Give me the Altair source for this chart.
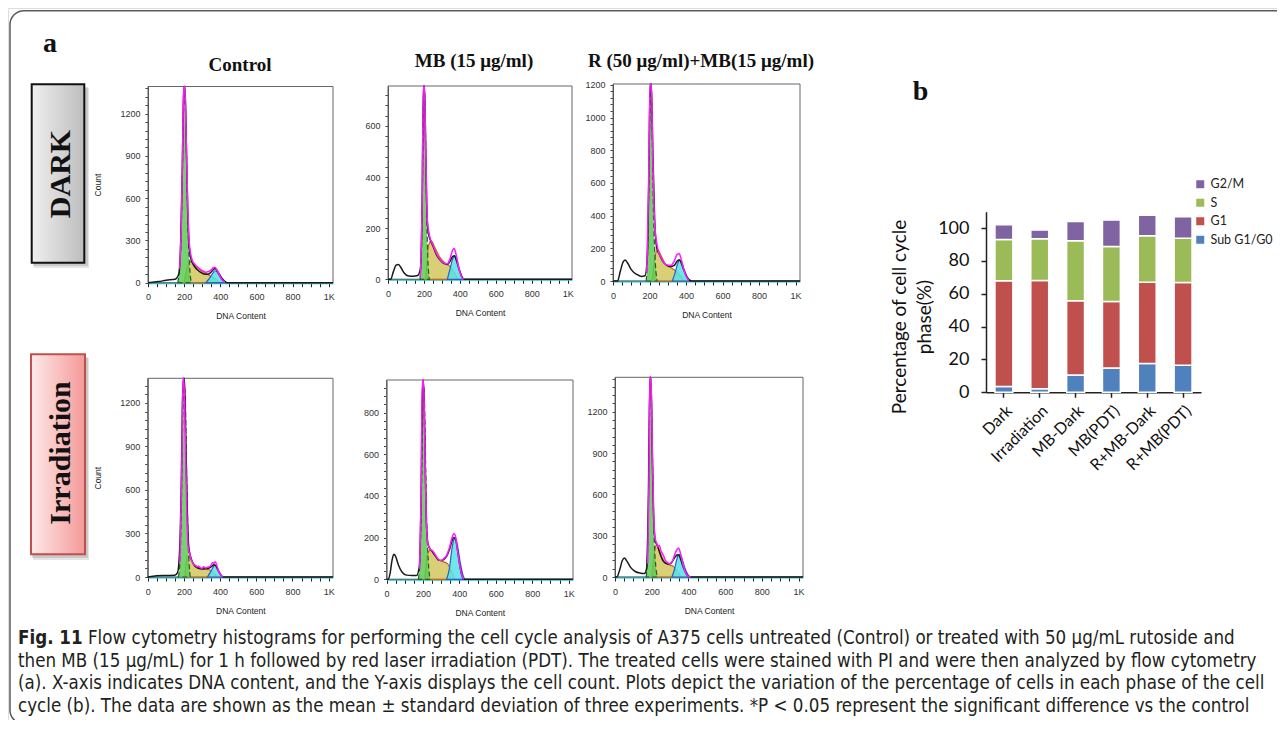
import altair as alt
import pandas as pd

# ---------------- panel b : % of cells in each phase ----------------
groups = ["Dark", "Irradiation", "MB-Dark", "MB(PDT)", "R+MB-Dark", "R+MB(PDT)"]
phases = ["G2/M", "S", "G1", "Sub G1/G0"]
sub_g1_pct = [3.5, 2.2, 10.6, 14.8, 17.5, 16.5]
g1_pct = [64.4, 65.9, 45.1, 40.5, 49.6, 50.4]
s_pct = [25.2, 25.4, 36.6, 33.5, 28.2, 27.0]
g2m_pct = [8.9, 5.3, 11.7, 16.1, 12.6, 13.0]
phase_colors = ["#8064A2", "#9BBB59", "#C0504D", "#4F81BD"]
pct_ticks = [0, 20, 40, 60, 80, 100]

# ---------------- panel a : DNA-content histograms (dna, count) ----------------
ctrl_dark_hist = [(0,0),(60,8),(100,18),(150,25),(170,60),(180,250),(190,800),(196,1300),(200,1393),(205,1393),(212,1000),(220,500),(228,260),(235,180),(250,130),(270,95),(290,75),(310,62),(330,60),(345,70),(360,90),(370,100),(380,90),(395,60),(410,30),(425,10),(440,0),(1024,0)]
ctrl_dark_g1 = [(165,0),(180,200),(190,750),(196,1250),(201,1330),(206,1250),(213,900),(220,450),(230,120),(240,0)]
ctrl_dark_s = [(200,0),(220,120),(240,150),(260,120),(290,90),(320,65),(350,45),(380,20),(400,0)]
ctrl_dark_g2 = [(320,0),(340,30),(360,70),(370,85),(380,80),(395,50),(410,20),(425,0)]
ctrl_dark_fit = [(175,100),(185,450),(192,1000),(198,1393),(204,1393),(210,1100),(220,550),(230,260),(245,160),(260,130),(290,95),(320,75),(345,85),(360,105),(370,110),(380,95),(395,55),(410,20),(425,3)]

mb_dark_hist = [(0,0),(15,0),(30,30),(45,55),(58,58),(70,48),(90,25),(110,14),(140,12),(165,15),(180,40),(190,300),(197,756),(203,756),(210,500),(217,250),(225,180),(235,155),(250,130),(270,95),(290,75),(310,62),(330,58),(345,70),(360,90),(370,92),(380,75),(395,40),(410,12),(425,0),(1024,0)]
mb_dark_g1 = [(178,0),(188,150),(195,550),(200,740),(205,720),(212,400),(220,120),(230,0)]
mb_dark_s = [(210,0),(225,130),(240,150),(260,125),(290,85),(320,62),(345,50),(370,25),(390,0)]
mb_dark_g2 = [(330,0),(345,40),(360,80),(370,92),(380,85),(395,45),(410,12),(420,0)]
mb_dark_fit = [(180,10),(190,300),(197,756),(203,756),(210,500),(220,220),(235,160),(250,135),(270,100),(300,70),(330,60),(345,80),(360,115),(368,120),(378,100),(392,50),(408,12),(420,0)]

rmb_dark_hist = [(0,0),(25,0),(40,60),(55,115),(66,128),(80,110),(100,70),(130,40),(155,28),(175,32),(188,150),(197,700),(203,1205),(210,1205),(218,800),(228,380),(240,200),(255,160),(275,115),(295,95),(315,88),(335,95),(350,120),(362,130),(372,115),(385,75),(400,35),(415,10),(430,0),(1024,0)]
rmb_dark_g1 = [(182,0),(192,300),(200,900),(207,1180),(213,1000),(220,500),(230,150),(242,0)]
rmb_dark_s = [(215,0),(230,150),(245,190),(265,150),(290,100),(320,80),(345,60),(370,30),(390,0)]
rmb_dark_g2 = [(325,0),(340,50),(355,110),(365,130),(375,120),(390,70),(405,25),(420,0)]
rmb_dark_fit = [(185,50),(195,600),(203,1205),(210,1205),(218,750),(228,350),(245,200),(265,140),(290,100),(315,95),(335,120),(350,160),(362,168),(372,140),(385,80),(400,30),(415,5)]

ctrl_irr_hist = [(0,0),(50,8),(100,10),(150,12),(165,30),(175,150),(185,600),(192,1200),(198,1370),(203,1370),(210,1000),(218,500),(226,220),(235,150),(245,110),(260,75),(280,60),(300,55),(320,58),(340,62),(355,75),(365,85),(375,80),(385,55),(395,30),(405,10),(415,0),(1024,0)]
ctrl_irr_g1 = [(170,0),(180,150),(188,600),(195,1200),(200,1340),(207,1250),(215,700),(225,200),(235,0)]
ctrl_irr_s = [(205,0),(220,150),(235,130),(255,90),(280,65),(310,55),(340,50),(365,30),(385,0)]
ctrl_irr_g2 = [(330,0),(345,30),(360,65),(370,80),(380,75),(392,45),(405,15),(415,0)]
ctrl_irr_fit = [(178,100),(188,700),(195,1370),(200,1370),(208,950),(216,450),(224,200),(232,160),(240,120),(248,100),(256,85),(264,80),(272,70),(280,75),(290,65),(300,60),(310,70),(320,62),(330,68),(340,70),(350,80),(358,100),(366,95),(374,105),(382,80),(392,40),(405,12),(415,0)]

mb_irr_hist = [(0,0),(10,0),(20,30),(30,90),(40,120),(50,110),(65,70),(85,35),(110,20),(140,18),(165,18),(180,60),(190,400),(197,900),(203,956),(210,700),(218,300),(228,170),(240,145),(255,130),(270,110),(285,92),(300,90),(315,95),(330,110),(345,140),(360,185),(370,200),(380,190),(390,140),(400,80),(412,25),(425,0),(1024,0)]
mb_irr_g1 = [(175,0),(185,120),(193,450),(200,850),(206,920),(212,700),(220,300),(230,80),(240,0)]
mb_irr_s = [(210,0),(225,120),(240,140),(260,120),(285,95),(310,85),(335,75),(355,40),(375,0)]
mb_irr_g2 = [(330,0),(345,50),(360,150),(370,190),(380,195),(390,160),(405,80),(420,20),(430,0)]
mb_irr_fit = [(182,50),(190,400),(197,956),(203,956),(210,680),(218,290),(228,165),(240,145),(255,135),(270,115),(285,95),(300,90),(315,100),(330,115),(345,150),(360,200),(370,220),(378,210),(388,150),(400,80),(412,25),(425,0)]

rmb_irr_hist = [(0,0),(10,0),(25,50),(40,120),(51,138),(65,115),(85,70),(110,40),(140,28),(160,25),(172,60),(182,600),(190,1450),(196,1450),(203,900),(210,450),(220,260),(230,230),(245,170),(260,120),(275,100),(290,95),(305,100),(320,130),(333,155),(343,162),(352,150),(362,110),(375,60),(390,20),(405,0),(1024,0)]
rmb_irr_g1 = [(170,0),(180,300),(187,1000),(192,1420),(198,1300),(205,800),(213,300),(222,80),(232,0)]
rmb_irr_s = [(200,0),(215,180),(228,240),(245,180),(265,120),(290,90),(315,80),(340,40),(360,0)]
rmb_irr_g2 = [(310,0),(325,60),(335,120),(345,160),(355,165),(368,120),(382,60),(398,15),(410,0)]
rmb_irr_fit = [(178,100),(185,700),(190,1450),(196,1450),(203,950),(210,500),(218,280),(226,250),(234,220),(242,230),(250,190),(258,170),(266,150),(274,120),(282,110),(290,100),(298,95),(306,105),(314,120),(322,150),(330,180),(338,200),(346,210),(354,185),(362,140),(372,80),(385,30),(400,5),(412,0)]

# axis extents / label steps
y_max = {"ctrl_dark": 1393, "mb_dark": 756, "rmb_dark": 1205, "ctrl_irr": 1370, "mb_irr": 956, "rmb_irr": 1450}
y_step = {"ctrl_dark": 300, "mb_dark": 200, "rmb_dark": 200, "ctrl_irr": 300, "mb_irr": 200, "rmb_irr": 300}

col_titles = ["Control", "MB (15 μg/ml)", "R (50 μg/ml)+MB(15 μg/ml)"]
caption = [
    "Flow cytometry histograms for performing the cell cycle analysis of A375 cells untreated (Control) or treated with 50 µg/mL rutoside and",
    "then MB (15 µg/mL) for 1 h followed by red laser irradiation (PDT). The treated cells were stained with PI and were then analyzed by flow cytometry",
    "(a). X-axis indicates DNA content, and the Y-axis displays the cell count. Plots depict the variation of the percentage of cells in each phase of the cell",
    "cycle (b). The data are shown as the mean ± standard deviation of three experiments. *P < 0.05 represent the significant difference vs the control",
]

# ---------------- layout (pixels, chart coords) ----------------
W, H = 1269, 712
SANS = "Liberation Sans"
SERIF = "Liberation Serif"
CAP = "DejaVu Sans Condensed, Liberation Sans Narrow, Liberation Sans, sans-serif"
CAP_SIZE = 18.6

panel_geom = {  # x range, y range (zero, top)
    "ctrl_dark": ([140, 325], [274.7, 78.5]),
    "mb_dark": ([380, 564], [271.3, 78]),
    "rmb_dark": ([605, 792], [273, 76]),
    "ctrl_irr": ([139.7, 325], [569, 370.3]),
    "mb_irr": ([378.5, 565], [571.3, 372]),
    "rmb_irr": ([607, 795], [569, 369.3]),
}

one = pd.DataFrame({"k": [0]})


def pts(pairs):
    return pd.DataFrame(pairs, columns=["dna", "count"])


def text(t, x, y, **kw):
    return alt.Chart(one).mark_text(text=t, **kw).encode(x=alt.value(x), y=alt.value(y))


def box(x, x2, y, y2, **kw):
    return alt.Chart(one).mark_rect(**kw).encode(
        x=alt.value(x), x2=alt.value(x2), y=alt.value(y), y2=alt.value(y2))


def histogram(key, curves, show_count):
    hist, g1, s, g2, fit = curves
    xr, yr = panel_geom[key]
    ymax, step = y_max[key], y_step[key]
    minor = step // 5
    xs = alt.Scale(domain=[0, 1024], range=xr, nice=False, zero=False)
    ys = alt.Scale(domain=[0, ymax], range=yr, nice=False, zero=False)
    ax_kw = dict(labelFont=SANS, labelFontSize=9, labelColor="#333", grid=False,
                 titleFont=SANS, titleFontSize=8.5, titleFontWeight="normal", titleColor="#222",
                 labelFlush=False, labelOverlap=False)
    xaxis = alt.Axis(orient="bottom", offset=yr[0] - H, values=list(range(0, 1001, 50)),
                     labelExpr="datum.value == 1000 ? '1K' : (datum.value % 200 == 0 ? '' + datum.value : '')",
                     title="DNA Content", titlePadding=10, labelPadding=6, tickSize=4, tickColor="#222",
                     domainColor="#22c3cc", domainWidth=2, **ax_kw)
    ykw = dict(title="Count", titlePadding=17) if show_count else dict(title="")
    yaxis = alt.Axis(orient="left", offset=-xr[0], values=list(range(0, ymax + 1, minor)),
                     labelExpr=f"datum.value % {step} == 0 ? '' + datum.value : ''",
                     labelPadding=5, tickSize=3, tickColor="#444", domainColor="#444", domainWidth=1,
                     **ykw, **ax_kw)
    frame = alt.Chart(pd.DataFrame({"x0": [0], "x1": [1024], "y0": [0], "y1": [ymax]})).mark_rect(
        fillOpacity=0, stroke="#666", strokeWidth=1).encode(
        x=alt.X("x0:Q", scale=xs, axis=xaxis), x2="x1:Q",
        y=alt.Y("y0:Q", scale=ys, axis=yaxis), y2="y1:Q")

    def enc(c):
        return c.encode(x=alt.X("dna:Q", scale=xs, axis=xaxis), y=alt.Y("count:Q", scale=ys, axis=yaxis))

    a_g1 = enc(alt.Chart(pts(g1)).mark_area(interpolate="monotone", fill="#5ccc52", fillOpacity=0.85,
                                            stroke="#2c5a2c", strokeWidth=1.2, strokeDash=[5, 3]))
    a_s = enc(alt.Chart(pts(s)).mark_area(interpolate="monotone", fill="#cfc453", fillOpacity=0.8,
                                          stroke="#c8641e", strokeWidth=1.2))
    a_g2 = enc(alt.Chart(pts(g2)).mark_area(interpolate="monotone", fill="#55e3e8", fillOpacity=0.85,
                                            stroke="#2a5fc8", strokeWidth=1.2))
    l_hist = enc(alt.Chart(pts(hist)).mark_line(interpolate="monotone", color="#1a1a1a", strokeWidth=1.5))
    l_fit = enc(alt.Chart(pts(fit)).mark_line(interpolate="monotone", color="#ff1aff", strokeWidth=1.5))
    return alt.layer(frame, a_s, a_g2, a_g1, l_hist, l_fit)


panels = [
    histogram("ctrl_dark", (ctrl_dark_hist, ctrl_dark_g1, ctrl_dark_s, ctrl_dark_g2, ctrl_dark_fit), True),
    histogram("mb_dark", (mb_dark_hist, mb_dark_g1, mb_dark_s, mb_dark_g2, mb_dark_fit), False),
    histogram("rmb_dark", (rmb_dark_hist, rmb_dark_g1, rmb_dark_s, rmb_dark_g2, rmb_dark_fit), False),
    histogram("ctrl_irr", (ctrl_irr_hist, ctrl_irr_g1, ctrl_irr_s, ctrl_irr_g2, ctrl_irr_fit), True),
    histogram("mb_irr", (mb_irr_hist, mb_irr_g1, mb_irr_s, mb_irr_g2, mb_irr_fit), False),
    histogram("rmb_irr", (rmb_irr_hist, rmb_irr_g1, rmb_irr_s, rmb_irr_g2, rmb_irr_fit), False),
]

# ---------------- panel b chart ----------------
rows = []
for i, g in enumerate(groups):
    for ph, vals, o in [("Sub G1/G0", sub_g1_pct, 0), ("G1", g1_pct, 1), ("S", s_pct, 2), ("G2/M", g2m_pct, 3)]:
        rows.append({"group": g, "phase": ph, "pct": vals[i], "ord": o})
bdf = pd.DataFrame(rows)

B_X = [978, 1193]
B_Y = [384.3, 203.7]
LATO = "Lato"
bars = alt.Chart(bdf).mark_bar(stroke="white", strokeWidth=1.5).encode(
    x=alt.X("group:N", sort=groups,
            scale=alt.Scale(range=B_X, paddingInner=0.5, paddingOuter=0.25),
            axis=alt.Axis(orient="bottom", offset=B_Y[0] - H, title=None, labelAngle=315,
                          labelAlign="right", labelBaseline="top", labelFont=LATO, labelFontSize=16,
                          labelColor="#111", labelPadding=5, tickSize=5, tickWidth=1.5, tickColor="#222",
                          domainColor="#222", domainWidth=1.5, labelOverlap=False)),
    y=alt.Y("pct:Q", stack="zero",
            scale=alt.Scale(domain=[0, 110], range=B_Y, nice=False, zero=False),
            axis=alt.Axis(orient="left", offset=-B_X[0], values=pct_ticks, title=None, grid=False,
                          labelFont=LATO, labelFontSize=18, labelColor="#111", labelPadding=12,
                          tickSize=5, tickWidth=1.5, tickColor="#222", domainColor="#222", domainWidth=1.5)),
    color=alt.Color("phase:N", scale=alt.Scale(domain=phases, range=phase_colors),
                    legend=alt.Legend(orient="none", legendX=1186, legendY=170, title=None,
                                      symbolType="square", symbolSize=64, symbolStrokeWidth=0,
                                      labelFont=LATO, labelFontSize=12.5, labelColor="#222",
                                      rowPadding=5.5, padding=0, labelOffset=4)),
    order=alt.Order("ord:Q", sort="ascending"),
)

# ---------------- decorations ----------------
dark_grad = alt.LinearGradient(gradient="linear", x1=0, x2=1, y1=0, y2=0,
                               stops=[alt.GradientStop(color="#f0f0f0", offset=0),
                                      alt.GradientStop(color="#bdbdbd", offset=1)])
irr_grad = alt.LinearGradient(gradient="linear", x1=0, x2=1, y1=0, y2=0,
                              stops=[alt.GradientStop(color="#fde9e9", offset=0),
                                     alt.GradientStop(color="#f49a98", offset=1)])

cap_kw = dict(font=CAP, fontSize=CAP_SIZE, align="left", baseline="middle", color="#231f20")
deco = [
    box(2, 1300, 2.7, 716, fillOpacity=0, stroke="#5a5a5a", strokeWidth=1.5, cornerRadius=14),
    # shadows
    box(26, 81, 80, 260, fill="#000", opacity=0.10),
    box(25, 80, 79, 258, fill="#000", opacity=0.12),
    box(25, 81, 350, 552, fill="#000", opacity=0.10),
    box(24, 80, 349, 550, fill="#000", opacity=0.12),
    box(23.7, 76.3, 76.3, 254.7, fill=dark_grad, stroke="#111", strokeWidth=2),
    box(23, 77, 346.3, 546.3, fill=irr_grad, stroke="#c0504d", strokeWidth=2),
    text("DARK", 53, 166, angle=270, font=SERIF, fontWeight="bold", fontSize=30,
         align="center", baseline="middle", color="#111"),
    text("Irradiation", 53, 445, angle=270, font=SERIF, fontWeight="bold", fontSize=30,
         align="center", baseline="middle", color="#111"),
    text("a", 35, 44, font=SERIF, fontWeight="bold", fontSize=28, align="left", baseline="alphabetic", color="#111"),
    text("b", 904.7, 92, font=SERIF, fontWeight="bold", fontSize=28, align="left", baseline="alphabetic", color="#111"),
    text(col_titles[0], 232, 57, font=SERIF, fontWeight="bold", fontSize=19, align="center", baseline="middle", color="#111"),
    text(col_titles[1], 466, 53, font=SERIF, fontWeight="bold", fontSize=19, align="center", baseline="middle", color="#111"),
    text(col_titles[2], 693, 53, font=SERIF, fontWeight="bold", fontSize=19, align="center", baseline="middle", color="#111"),
    text("Percentage of cell cycle", 892, 309, angle=270, font=LATO, fontSize=19, align="center",
         baseline="middle", color="#111"),
    text("phase(%)", 917, 309, angle=270, font=LATO, fontSize=19, align="center", baseline="middle", color="#111"),
    text("Fig. 11", 10, 630.3, fontWeight="bold", **cap_kw),
    text(caption[0], 80, 630.3, **cap_kw),
    text(caption[1], 10, 652.7, **cap_kw),
    text(caption[2], 10, 675.3, **cap_kw),
    text(caption[3], 10, 698, **cap_kw),
]

chart = alt.layer(*deco, *panels, bars).resolve_scale(
    x="independent", y="independent", color="independent"
).resolve_axis(x="independent", y="independent").properties(
    width=W, height=H, padding=0, autosize=alt.AutoSizeParams(type="none")
).configure_view(strokeWidth=0).configure(background="white")

chart.save("out.html", embed_options={"renderer": "svg", "actions": False})
